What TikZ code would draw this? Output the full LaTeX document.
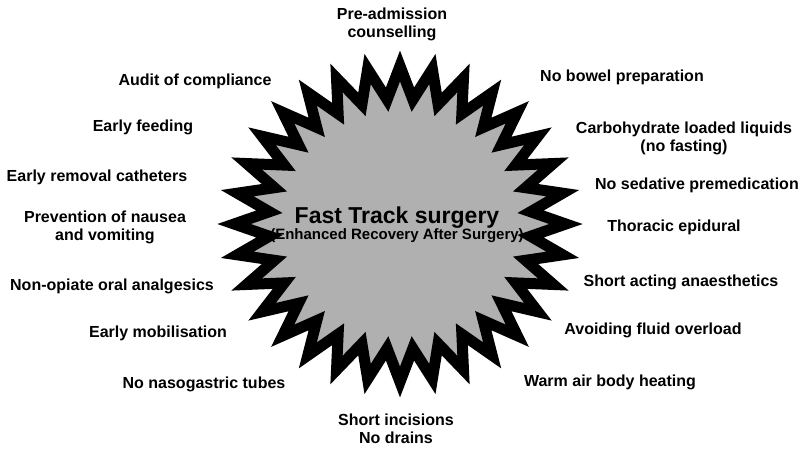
\documentclass[tikz,border=0pt]{standalone}
\usepackage{fontspec}
\setmainfont{Liberation Sans}
\usepackage{xcolor}
\usepackage{tikz}
\usetikzlibrary{positioning}
\definecolor{Burst}{HTML}{B0B0B0}
\definecolor{Ink}{HTML}{000000}

\begin{document}
\begin{tikzpicture}[x=1pt,y=-1pt,
  lbl/.style={align=center,text=Ink,font=\fontsize{16}{18}\selectfont\bfseries,inner sep=1pt},
  burst/.style={fill=Burst,draw=Ink,line width=11pt,line join=miter,miter limit=10}]
\useasboundingbox (0,0) rectangle (801,448);
% starburst, 32 spikes
\begin{scope}[shift={(400,224)},xscale=1.05]
\draw[burst] (84.375:125) \foreach \k in {0,...,30}{ -- ({90+\k*11.25}:158) -- ({95.625+\k*11.25}:125) } -- (438.75:158) -- cycle;
\end{scope}
\node[text=Ink,font=\fontsize{23}{25}\selectfont\bfseries,inner sep=1pt] (fts) at (397,218) {Fast Track surgery};
\node[text=Ink,font=\fontsize{15}{16}\selectfont\bfseries,inner sep=1pt,below=-3pt of fts] (eras) {(Enhanced Recovery After Surgery)};
% items round the burst
\foreach \n/\x/\y/\t in {
  pre/392/24/{Pre-admission\\counselling},
  audit/195/81/{Audit of compliance},
  bowel/622/77/{No bowel preparation},
  feed/143/127/{Early feeding},
  carbo/684/138/{Carbohydrate loaded liquids\\(no fasting)},
  cath/97/177/{Early removal catheters},
  sedat/697/185/{No sedative premedication},
  nausea/105/227/{Prevention of nausea\\and vomiting},
  epid/674/227/{Thoracic epidural},
  opiate/112/286/{Non-opiate oral analgesics},
  anaes/681/282/{Short acting anaesthetics},
  mobil/158/333/{Early mobilisation},
  fluid/653/330/{Avoiding fluid overload},
  naso/204/384/{No nasogastric tubes},
  warm/610/382/{Warm air body heating},
  incis/396/429/{Short incisions\\No drains}}{
  \node[lbl] (\n) at (\x,\y) {\t};
}
\end{tikzpicture}
\end{document}
